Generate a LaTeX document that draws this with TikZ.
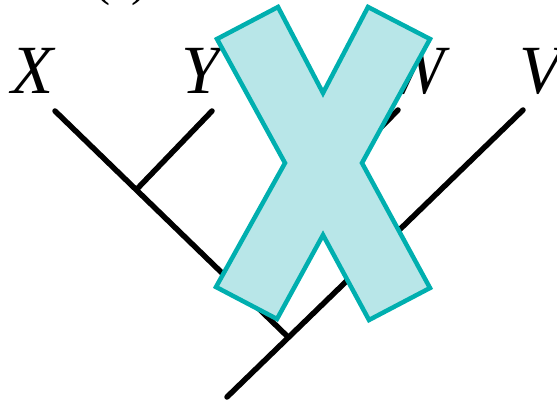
\documentclass[tikz,border=0pt]{standalone}
\usepackage{fontspec}
\setmainfont{Liberation Serif}
\definecolor{xfill}{RGB}{184,230,232}
\definecolor{xline}{RGB}{0,175,175}
\begin{document}
\begin{tikzpicture}[x=1pt,y=-1pt,
  branch/.style={line width=5.5pt,line cap=round,black},
  leaf/.style={inner sep=0pt,anchor=base,font=\fontsize{69}{69}\selectfont\itshape},
  cross/.style={draw=xline,fill=xfill,line width=4.5pt,line join=miter}]
\useasboundingbox (0,0) rectangle (557,403);
\clip (0,0) rectangle (557,403);
\node[inner sep=0pt,anchor=base,font=\fontsize{48}{48}\selectfont] (lab) at (121,-4.5) {(a)};
\node[leaf] (x) at (33,94) {X};
\node[leaf] (y) at (201,94) {Y};
\node[leaf] (w) at (416,94) {W};
\node[leaf] (v) at (541,94) {V};
\coordinate (xe) at (55,111);
\coordinate (ye) at (212,111);
\coordinate (we) at (398,110);
\coordinate (ve) at (523,110);
\coordinate (root) at (227,397);
\coordinate (j1) at (137,189);
\coordinate (j2) at (282,228);
\coordinate (j3) at (288,337);
\draw[branch] (xe) -- (j3);
\draw[branch] (ye) -- (j1);
\draw[branch] (we) -- (j2);
\draw[branch] (root) -- (ve);
\draw[cross] (217,39) -- (278,7) -- (323,93) -- (368,7) -- (430,39) -- (362,163)
  -- (430,288) -- (369,320) -- (323,235) -- (277,319) -- (216,287) -- (285,163) -- cycle;
\end{tikzpicture}
\end{document}
